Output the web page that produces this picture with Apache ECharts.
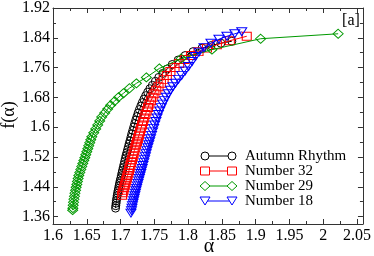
<!DOCTYPE html>
<html><head><meta charset="utf-8">
<script src="https://cdn.jsdelivr.net/npm/echarts@6/dist/echarts.min.js"></script>
<style>html,body{margin:0;padding:0;background:#fff}#c{width:374px;height:256px}</style>
</head><body><div id="c"></div>
<script>
// ---- data ----
var seriesNames = ['Autumn Rhythm', 'Number 32', 'Number 29', 'Number 18'];
var autumnAlpha = [1.6926,1.6929,1.6934,1.6938,1.6944,1.6950,1.6956,1.6963,1.6971,1.6978,1.6985,1.6994,1.7003,1.7012,1.7021,1.7029,1.7040,1.7050,1.7060,1.7071,1.7081,1.7093,1.7104,1.7116,1.7128,1.7140,1.7153,1.7166,1.7181,1.7196,1.7210,1.7226,1.7243,1.7260,1.7279,1.7300,1.7322,1.7346,1.7372,1.7401,1.7434,1.7471,1.7515,1.7566,1.7625,1.7691,1.7765,1.7853,1.7956,1.8074,1.8206,1.8338,1.8485,1.8647];
var autumnF = [1.3826,1.3892,1.3959,1.4025,1.4092,1.4158,1.4225,1.4291,1.4358,1.4424,1.4491,1.4557,1.4624,1.4696,1.4767,1.4837,1.4916,1.4996,1.5076,1.5156,1.5236,1.5315,1.5395,1.5475,1.5555,1.5635,1.5728,1.5821,1.5914,1.6007,1.6100,1.6193,1.6286,1.6380,1.6473,1.6566,1.6659,1.6752,1.6845,1.6938,1.7031,1.7124,1.7231,1.7337,1.7444,1.7563,1.7683,1.7803,1.7923,1.8029,1.8122,1.8189,1.8255,1.8308];
var n32Alpha = [1.7022,1.7032,1.7043,1.7053,1.7063,1.7074,1.7084,1.7094,1.7104,1.7115,1.7125,1.7135,1.7146,1.7157,1.7169,1.7181,1.7193,1.7204,1.7218,1.7231,1.7244,1.7257,1.7272,1.7287,1.7301,1.7318,1.7334,1.7350,1.7368,1.7387,1.7406,1.7426,1.7450,1.7475,1.7501,1.7529,1.7562,1.7597,1.7638,1.7685,1.7738,1.7799,1.7868,1.7949,1.8044,1.8154,1.8279,1.8426,1.8618,1.8868];
var n32F = [1.4171,1.4238,1.4305,1.4371,1.4438,1.4504,1.4571,1.4637,1.4704,1.4770,1.4837,1.4903,1.4970,1.5049,1.5129,1.5209,1.5289,1.5369,1.5448,1.5528,1.5608,1.5688,1.5781,1.5874,1.5967,1.6060,1.6153,1.6247,1.6340,1.6433,1.6526,1.6619,1.6712,1.6805,1.6898,1.6991,1.7085,1.7178,1.7284,1.7390,1.7497,1.7603,1.7710,1.7816,1.7923,1.8029,1.8122,1.8215,1.8322,1.8441];
var n29Alpha = [2.0221,1.9074,1.8353,1.7897,1.7574,1.7382,1.7235,1.7132,1.7044,1.6971,1.6912,1.6853,1.6809,1.6765,1.6721,1.6691,1.6662,1.6632,1.6603,1.6574,1.6559,1.6544,1.6529,1.6515,1.6500,1.6485,1.6471,1.6456,1.6441,1.6426,1.6412,1.6397,1.6382,1.6372,1.6362,1.6353,1.6343,1.6334,1.6325,1.6318,1.6310,1.6304,1.6299,1.6294,1.6291];
var n29F = [1.8508,1.8375,1.8082,1.7843,1.7577,1.7337,1.7178,1.7045,1.6912,1.6806,1.6699,1.6592,1.6486,1.6380,1.6273,1.6167,1.6060,1.5954,1.5847,1.5741,1.5661,1.5581,1.5502,1.5422,1.5342,1.5262,1.5182,1.5103,1.5023,1.4943,1.4863,1.4783,1.4704,1.4624,1.4544,1.4464,1.4384,1.4305,1.4225,1.4145,1.4065,1.3985,1.3905,1.3826,1.3772];
var n18Alpha = [1.7154,1.7162,1.7169,1.7176,1.7185,1.7194,1.7203,1.7212,1.7221,1.7229,1.7238,1.7249,1.7259,1.7269,1.7279,1.7290,1.7300,1.7310,1.7321,1.7332,1.7344,1.7356,1.7368,1.7379,1.7391,1.7404,1.7418,1.7431,1.7444,1.7459,1.7474,1.7490,1.7506,1.7524,1.7541,1.7560,1.7581,1.7603,1.7626,1.7651,1.7678,1.7707,1.7740,1.7775,1.7813,1.7857,1.7904,1.7956,1.8007,1.8059,1.8110,1.8162,1.8235,1.8338,1.8456,1.8574,1.8691,1.8794];
var n18F = [1.3693,1.3759,1.3826,1.3892,1.3959,1.4025,1.4092,1.4158,1.4225,1.4291,1.4358,1.4424,1.4491,1.4557,1.4624,1.4690,1.4757,1.4823,1.4890,1.4970,1.5049,1.5129,1.5209,1.5289,1.5369,1.5448,1.5528,1.5608,1.5688,1.5781,1.5874,1.5967,1.6060,1.6153,1.6247,1.6340,1.6433,1.6526,1.6619,1.6712,1.6805,1.6898,1.6991,1.7085,1.7178,1.7284,1.7390,1.7510,1.7630,1.7763,1.7896,1.8016,1.8135,1.8255,1.8361,1.8441,1.8508,1.8561];
var xTickLabels = [1.6,1.65,1.7,1.75,1.8,1.85,1.9,1.95,2.0,2.05];
var xMinorTicks = [1.625,1.675,1.725,1.775,1.825,1.875,1.925,1.975,2.025];
var yTickLabels = [1.36,1.44,1.52,1.6,1.68,1.76,1.84,1.92];
var yMinorTicks = [1.40,1.48,1.56,1.64,1.72,1.80,1.88];
var colors = ['#000000','#ff0000','#009900','#0000ff'];
var xMin = 1.6, xMax = 2.0588, yMin = 1.34, yMax = 1.92;

function zip(a, b){ var r=[]; for (var i=0;i<a.length;i++) r.push([a[i], b[i]]); return r; }

var FONT = 'Liberation Serif';
var axisLineStyle = {color:'#333', width:1};
function xAxisDef(pos, labels, ticks, len, showLine){
  return {type:'value', position:pos, min:xMin, max:xMax, gridIndex:0,
    axisLine:{show:showLine, onZero:false, lineStyle:axisLineStyle},
    axisTick:{show:true, inside:true, length:len, customValues:ticks, lineStyle:axisLineStyle},
    axisLabel:{show:labels, customValues:ticks, margin:4, color:'#000', fontFamily:FONT, fontSize:16,
      formatter:function(v){return String(+v.toFixed(3));}},
    splitLine:{show:false}};
}
function yAxisDef(pos, labels, ticks, len, showLine){
  return {type:'value', position:pos, min:yMin, max:yMax, gridIndex:0,
    axisLine:{show:showLine, onZero:false, lineStyle:axisLineStyle},
    axisTick:{show:true, inside:true, length:len, customValues:ticks, lineStyle:axisLineStyle},
    axisLabel:{show:labels, customValues:ticks, margin:3, color:'#000', fontFamily:FONT, fontSize:16,
      formatter:function(v){return String(+v.toFixed(3));}},
    splitLine:{show:false}};
}

var symbols = ['circle','rect','diamond','triangle'];
var sizes = [[8,8],[9,8],[10,9],[10,8]];
var rot = [0,0,0,180];
var datas = [zip(autumnAlpha,autumnF), zip(n32Alpha,n32F), zip(n29Alpha,n29F), zip(n18Alpha,n18F)];
var series = datas.map(function(d,i){
  return {type:'line', name:seriesNames[i], data:d, xAxisIndex:0, yAxisIndex:0,
    symbol:symbols[i], symbolSize:sizes[i], symbolRotate:rot[i], showSymbol:true, showAllSymbol:true,
    lineStyle:{color:colors[i], width:1},
    itemStyle:{color:'rgba(255,255,255,0)', borderColor:colors[i], borderWidth:1},
    emphasis:{disabled:true}, z:2+i};
});

// legend drawn with graphic elements
var legendY = [156,171,186,201];
var legendGraphics = [];
for (var i=0;i<4;i++){
  var y = legendY[i], c = colors[i];
  legendGraphics.push({type:'line', shape:{x1:205,y1:y,x2:232,y2:y}, style:{stroke:c, lineWidth:1}});
  [205,232].forEach(function(x){
    var s;
    if (i===0) s = {type:'circle', shape:{cx:x,cy:y,r:4}, style:{fill:'#fff',stroke:c,lineWidth:1}};
    else if (i===1) s = {type:'rect', shape:{x:x-4.5,y:y-4,width:9,height:8}, style:{fill:'#fff',stroke:c,lineWidth:1}};
    else if (i===2) s = {type:'polygon', shape:{points:[[x,y-4.5],[x+5,y],[x,y+4.5],[x-5,y]]}, style:{fill:'#fff',stroke:c,lineWidth:1}};
    else s = {type:'polygon', shape:{points:[[x-5,y-4],[x+5,y-4],[x,y+4]]}, style:{fill:'#fff',stroke:c,lineWidth:1}};
    legendGraphics.push(s);
  });
  legendGraphics.push({type:'text', x:245, y:y, style:{text:seriesNames[i], fill:'#000', font:'15px "Liberation Serif"', textAlign:'left', textVerticalAlign:'middle'}});
}
legendGraphics.push({type:'text', x:209, y:247, style:{text:'α', fill:'#000', font:'20px "Liberation Serif"', textAlign:'center', textVerticalAlign:'middle'}});
legendGraphics.push({type:'text', x:9, y:115, rotation:Math.PI/2, style:{text:'f(α)', fill:'#000', font:'18px "Liberation Serif"', textAlign:'center', textVerticalAlign:'middle'}});
legendGraphics.push({type:'text', x:351, y:21, style:{text:'[a]', fill:'#000', font:'16px "Liberation Serif"', textAlign:'center', textVerticalAlign:'middle'}});

var chart = echarts.init(document.getElementById('c'), null, {renderer:'canvas'});
chart.setOption({
  animation:false,
  backgroundColor:'#fff',
  grid:{left:53, top:6, right:9, bottom:32, containLabel:false},
  xAxis:[xAxisDef('bottom', true, xTickLabels, 5, true), xAxisDef('bottom', false, xMinorTicks, 3, false),
         xAxisDef('top', false, xTickLabels, 5, true), xAxisDef('top', false, xMinorTicks, 3, false)],
  yAxis:[yAxisDef('left', true, yTickLabels, 5, true), yAxisDef('left', false, yMinorTicks, 3, false),
         yAxisDef('right', false, yTickLabels, 5, true), yAxisDef('right', false, yMinorTicks, 3, false)],
  series:series,
  graphic:legendGraphics
});
</script></body></html>
